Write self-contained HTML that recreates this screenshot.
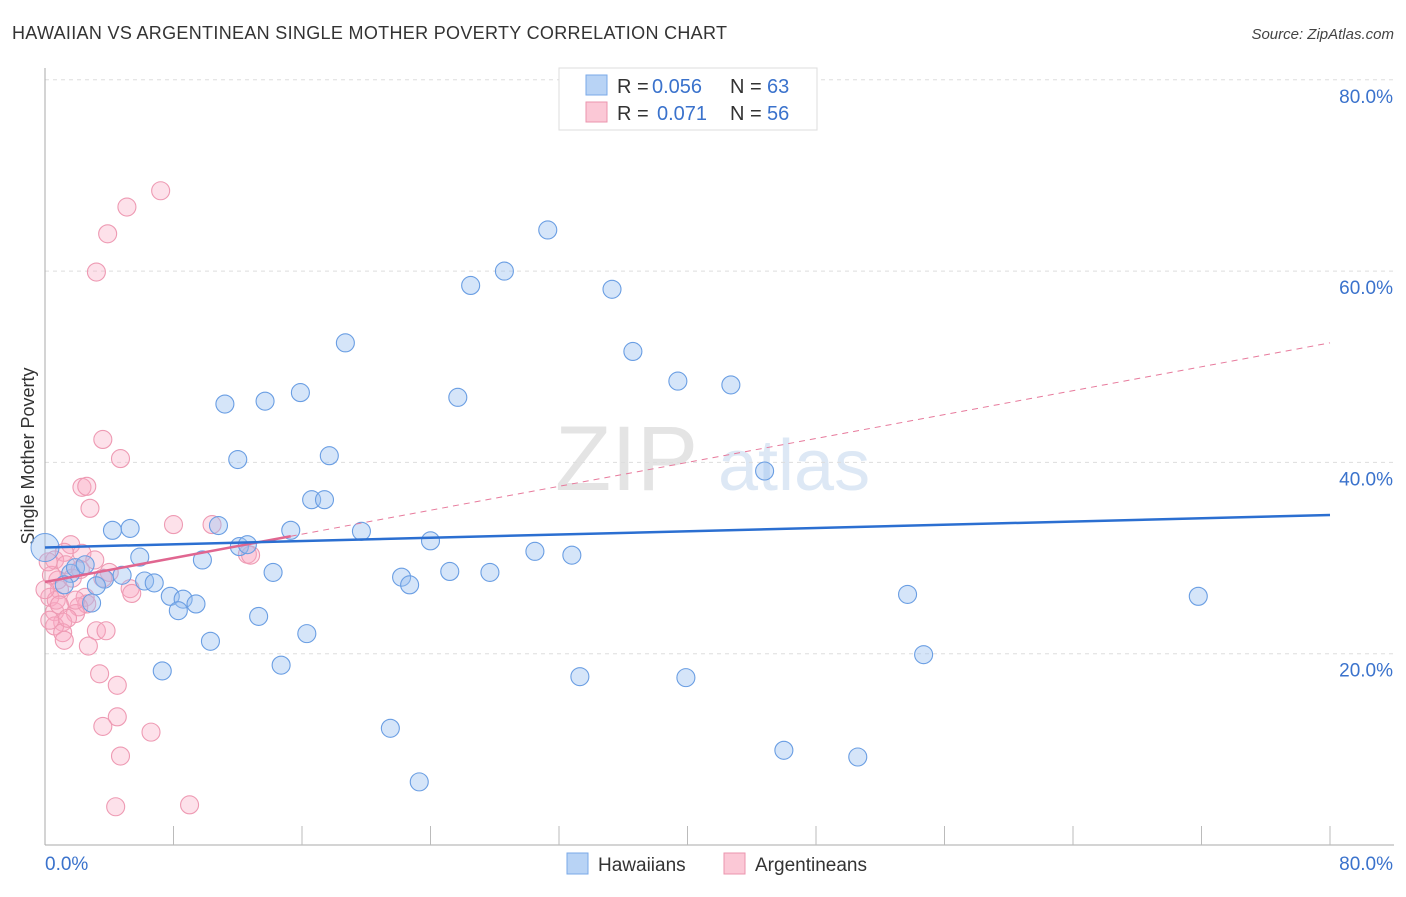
<!DOCTYPE html>
<html><head><meta charset="utf-8"><style>
body{margin:0;background:#fff;font-family:"Liberation Sans",sans-serif}
svg text{font-family:"Liberation Sans",sans-serif}
</style></head><body>
<svg id="c" width="1406" height="892" xmlns="http://www.w3.org/2000/svg">
<text x="12" y="39" font-size="18" fill="#333" textLength="715">HAWAIIAN VS ARGENTINEAN SINGLE MOTHER POVERTY CORRELATION CHART</text>
<text x="1394" y="39" font-size="15" fill="#444" font-style="italic" text-anchor="end">Source: ZipAtlas.com</text>
<text x="555" y="490" font-size="92" fill="#e4e4e4" font-family="Liberation Serif">ZIP</text>
<text x="718" y="490" font-size="72" fill="#dde8f5">atlas</text>
<text transform="translate(34,456) rotate(-90)" font-size="18" fill="#333" text-anchor="middle">Single Mother Poverty</text>
<g id="grid"></g><g id="marks"></g>
<g>
<rect x="559" y="68" width="258" height="62" fill="#fff" stroke="#ddd"/>
<rect x="586" y="75" width="21" height="20" fill="#b8d3f5" stroke="#7aaae8"/>
<rect x="586" y="102" width="21" height="20" fill="#fbc8d6" stroke="#eb94ae"/>
<text x="617" y="93" font-size="20" fill="#333">R =</text>
<text x="652" y="93" font-size="20" fill="#3a72cc">0.056</text>
<text x="730" y="93" font-size="20" fill="#333">N =</text>
<text x="767" y="93" font-size="20" fill="#3a72cc">63</text>
<text x="617" y="120" font-size="20" fill="#333">R =</text>
<text x="657" y="120" font-size="20" fill="#3a72cc">0.071</text>
<text x="730" y="120" font-size="20" fill="#333">N =</text>
<text x="767" y="120" font-size="20" fill="#3a72cc">56</text>
</g>
<g>
<rect x="567" y="853" width="21" height="21" fill="#b8d3f5" stroke="#7aaae8"/>
<text x="598" y="871" font-size="19" fill="#333">Hawaiians</text>
<rect x="724" y="853" width="21" height="21" fill="#fbc8d6" stroke="#eb94ae"/>
<text x="755" y="871" font-size="19" fill="#333">Argentineans</text>
</g>
</svg>
<script>
const yTicks=[20,40,60,80];
const xTickLabels=["0.0%","80.0%"];
const hawX=[31.3,28.6,26.5,35.3,18.7,36.6,39.4,42.7,11.2,13.7,15.9,25.7,12.0,17.7,44.8,16.6,17.4,4.2,5.3,10.8,15.3,19.7,24.0,12.1,12.6,30.5,32.8,5.9,9.8,14.2,22.2,22.7,25.2,27.7,4.8,3.7,6.2,6.8,3.2,1.6,1.2,7.8,8.6,9.4,8.3,2.9,13.3,53.7,71.8,10.3,16.3,54.7,7.3,14.7,33.3,39.9,21.5,46.0,50.6,23.3,1.9,2.5];
const hawY=[64.3,60.0,58.5,58.1,52.5,51.6,48.5,48.1,46.1,46.4,47.3,46.8,40.3,40.7,39.1,36.1,36.1,32.9,33.1,33.4,32.9,32.8,31.8,31.2,31.4,30.7,30.3,30.1,29.8,28.5,28.0,27.2,28.6,28.5,28.2,27.8,27.6,27.4,27.1,28.4,27.2,26.0,25.7,25.2,24.5,25.3,23.9,26.2,26.0,21.3,22.1,19.9,18.2,18.8,17.6,17.5,12.2,9.9,9.2,6.6,29.0,29.3];
const argX=[7.2,5.1,3.9,3.2,3.6,4.7,2.3,2.6,2.8,8.0,10.4,12.6,12.8,1.6,2.3,1.2,0.6,1.3,4.0,3.6,5.3,5.4,0.9,0.3,2.5,2.6,2.1,1.9,0.6,1.1,0.6,1.1,3.2,3.8,2.7,3.4,4.5,4.5,3.6,6.6,4.7,4.4,9.0,0.8,1.7,0.4,0.2,0.7,1.9,0.9,1.4,2.2,3.1,0,0.3,1.2];
const argY=[68.4,66.7,63.9,59.9,42.4,40.4,37.4,37.5,35.2,33.5,33.5,30.4,30.3,31.4,30.5,30.6,29.8,29.3,28.5,27.9,26.8,26.3,26.7,25.9,25.9,25.2,24.9,24.2,24.4,23.3,22.9,22.2,22.4,22.4,20.8,17.9,16.7,13.4,12.4,11.8,9.3,4.0,4.2,27.7,27.9,28.2,29.6,25.6,25.6,25.1,23.7,28.8,29.8,26.7,23.5,21.4];
const hawTrend=[31.1,34.5];
const argTrend=[27.5,52.5];
const argSolidEnd=15.3;
const X=v=>45+v*(1285/80), Y=v=>845-v*(765.2/80);
const NS="http://www.w3.org/2000/svg";
function mk(t,a,p){const e=document.createElementNS(NS,t);for(const k in a)e.setAttribute(k,a[k]);p.appendChild(e);return e;}
const g=document.getElementById('grid'), m=document.getElementById('marks');
yTicks.forEach(t=>{
 const l=mk('line',{x1:45,x2:1394,y1:Y(t),y2:Y(t),stroke:'#ddd','stroke-dasharray':'4,4'},g);
 
 
 const tx=mk('text',{x:1393,y:Y(t)+23,'font-size':19,fill:'#3a72cc','text-anchor':'end'},g);tx.textContent=t.toFixed(1)+'%';
 
 
});
const ax=mk('line',{x1:45,x2:1394,y1:845,y2:845,stroke:'#aaa'},g);


const ay=mk('line',{x1:45,x2:45,y1:68,y2:845,stroke:'#aaa'},g);


for(let i=1;i<=10;i++){const t=mk('line',{x1:X(i*8),x2:X(i*8),y1:826,y2:845,stroke:'#bbb'},g);
 
 }
const l0=mk('text',{x:45,y:870,'font-size':19,fill:'#3a72cc'},g);l0.textContent=xTickLabels[0];


const l1=mk('text',{x:1393,y:870,'font-size':19,fill:'#3a72cc','text-anchor':'end'},g);l1.textContent=xTickLabels[1];


function pts(xs,ys,fill,stroke,name){xs.forEach((x,i)=>{const c=mk('circle',{cx:X(x),cy:Y(ys[i]),r:9,fill:fill,stroke:stroke,'stroke-width':1.1},m);
 
 });}
pts(argX,argY,'rgba(248,170,195,0.35)','#ee9ab3','argentinean-point');
pts(hawX,hawY,'rgba(150,190,240,0.4)','#6a9ee3','hawaiian-point');
const big=mk('circle',{cx:X(0),cy:Y(31.1),r:14,fill:'rgba(150,190,240,0.4)',stroke:'#6a9ee3'},m);


const at=v=>argTrend[0]+(argTrend[1]-argTrend[0])*v/80;
const d=mk('line',{x1:X(argSolidEnd),y1:Y(at(argSolidEnd)),x2:X(80),y2:Y(argTrend[1]),stroke:'#e77a9c','stroke-dasharray':'6,5','stroke-width':1},m);


const s=mk('line',{x1:X(0),y1:Y(argTrend[0]),x2:X(argSolidEnd),y2:Y(at(argSolidEnd)),stroke:'#e06690','stroke-width':2.5},m);


const h=mk('line',{x1:X(0),y1:Y(hawTrend[0]),x2:X(80),y2:Y(hawTrend[1]),stroke:'#2b6fd1','stroke-width':2.5},m);


</script>
</body></html>
